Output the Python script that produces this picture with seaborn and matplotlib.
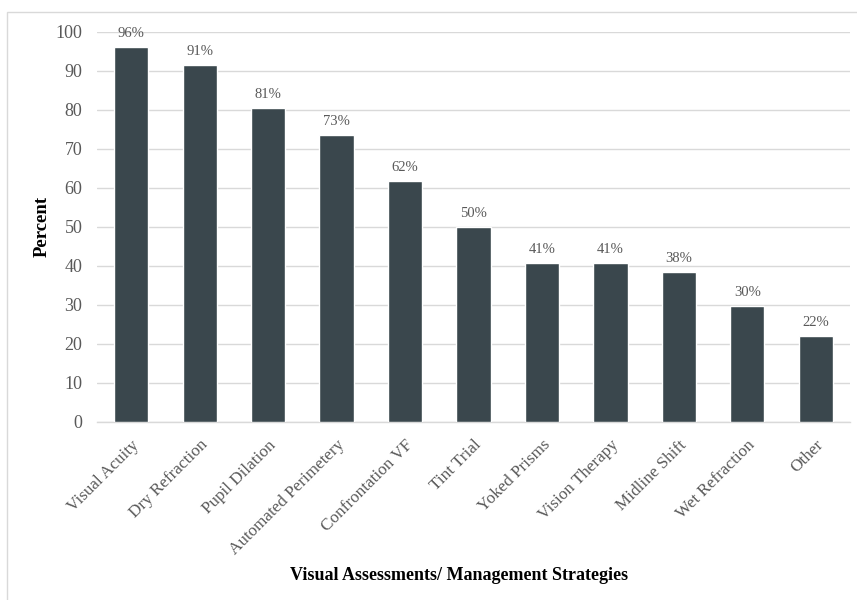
import matplotlib
matplotlib.use("Agg")
import matplotlib.pyplot as plt
import seaborn as sns
import pandas as pd
from matplotlib.patches import Rectangle

categories = ["Visual Acuity", "Dry Refraction", "Pupil Dilation", "Automated Perimetery",
              "Confrontation VF", "Tint Trial", "Yoked Prisms", "Vision Therapy",
              "Midline Shift", "Wet Refraction", "Other"]
percent = [96.1, 91.4, 80.5, 73.4, 61.7, 50.0, 40.6, 40.6, 38.3, 29.7, 21.9]
bar_labels = ["96%", "91%", "81%", "73%", "62%", "50%", "41%", "41%", "38%", "30%", "22%"]
yticks = [0, 10, 20, 30, 40, 50, 60, 70, 80, 90, 100]

sns.set_style("white")
plt.rcParams['font.family'] = ['Liberation Serif', 'DejaVu Serif']

df = pd.DataFrame({"cat": categories, "pct": percent})

fig = plt.figure(figsize=(8.57, 6.0), dpi=100)
ax = fig.add_axes([97/857, 1-421.7/600, (850-97)/857, (421.7-31.5)/600])

sns.barplot(data=df, x="cat", y="pct", color="#3A474D", saturation=1, width=0.5, ax=ax, zorder=3)

ax.set_ylim(0, 100)
ax.set_xlim(-0.5, len(categories)-0.5)
ax.set_yticks(yticks)
ax.set_yticklabels([str(v) for v in yticks], fontsize=13, color="#595959")
ax.yaxis.grid(True, color="#D9D9D9", linewidth=1.0, zorder=0)
ax.set_axisbelow(True)
for s in ["top", "right", "left"]:
    ax.spines[s].set_visible(False)
ax.spines["bottom"].set_color("#D9D9D9")
ax.spines["bottom"].set_linewidth(1.0)
ax.tick_params(axis="y", length=0, pad=10.5)
ax.set_xticks(range(len(categories)))
ax.set_xticklabels(categories, rotation=45, ha="right", rotation_mode="anchor",
                   fontsize=12.3, color="#595959")
ax.tick_params(axis="x", length=0, pad=11)

for i, (v, lab) in enumerate(zip(percent, bar_labels)):
    ax.text(i, v + 1.8, lab, ha="center", va="bottom", fontsize=10.5, color="#595959")

ax.set_ylabel("Percent", fontsize=13.5, fontweight="bold", color="black")
ax.set_xlabel("")
fig.text(459.5/857, 1-576/600, "Visual Assessments/ Management Strategies", ha="center", va="center",
         fontsize=13, fontweight="bold", color="black")
ax.yaxis.set_label_coords((51-97)/(850-97), 0.5)

fig.patches.append(Rectangle((7/857, -0.1), 1.2, (1-12/600)+0.1, transform=fig.transFigure,
                             fill=False, edgecolor="#D9D9D9", linewidth=1.0))

fig.savefig("out.png", dpi=100)
